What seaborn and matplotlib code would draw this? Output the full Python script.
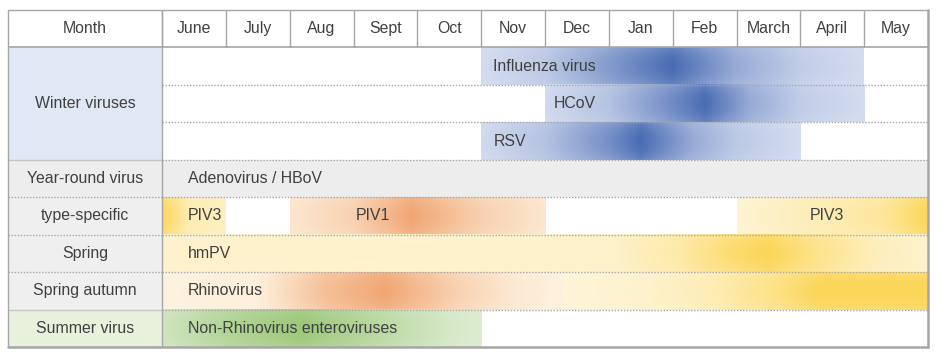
import numpy as np
import matplotlib
matplotlib.use("Agg")
import matplotlib.pyplot as plt
import seaborn as sns

# --- data -------------------------------------------------------------
months = ["June", "July", "Aug", "Sept", "Oct", "Nov", "Dec", "Jan",
          "Feb", "March", "April", "May"]

# category label, first row, last row (rows counted below the header)
groups = ["Winter viruses", "Year-round virus", "type-specific", "Spring",
          "Spring autumn", "Summer virus"]
group_rows = [(0, 3), (3, 4), (4, 5), (5, 6), (6, 7), (7, 8)]
group_fill = ["#e0e7f5", "#eeeded", "#f0efef", "#f0efef", "#f0efef", "#e7f1dc"]

# season bars: row, start month, end month, gradient stops (month, level), hue
bar_rows   = [0, 1, 2, 4, 4, 4, 5, 6, 6, 7]
bar_start  = [5, 6, 5, 0, 2, 9, 0, 0, 6.3, 0]
bar_end    = [11, 11, 10, 1, 6, 12, 12, 6.3, 12, 5]
bar_hue    = ["blue", "blue", "blue", "yellow", "orange", "yellow",
              "yellow", "orange", "yellow", "green"]
bar_stop_x = [[5, 6, 7, 8, 9, 10, 11],
              [6, 7, 8, 8.5, 9.2, 10, 11],
              [5, 6, 7, 7.5, 8.3, 9, 10],
              [0, 0.4, 1],
              [2, 3, 3.9, 5, 6],
              [9, 10.3, 11.3, 12],
              [0, 7.1, 8.1, 8.9, 9.5, 10.3, 11.2, 12],
              [0, 1.5, 2.6, 3.5, 4.6, 5.5, 6.3],
              [6.3, 7.6, 8.6, 9.6, 10.3, 12],
              [0, 1.0, 2.2, 3.5, 4.4, 5]]
bar_stop_v = [[0.1, 0.25, 0.62, 1.0, 0.5, 0.22, 0.1],
              [0.12, 0.3, 0.75, 1.0, 0.5, 0.22, 0.1],
              [0.12, 0.3, 0.72, 1.0, 0.5, 0.25, 0.1],
              [1.0, 0.35, 0.2],
              [0.18, 0.45, 1.0, 0.45, 0.18],
              [0.08, 0.3, 0.5, 1.0],
              [0.12, 0.14, 0.4, 0.8, 1.0, 0.6, 0.25, 0.12],
              [0.02, 0.06, 0.7, 1.0, 0.45, 0.15, 0.02],
              [0.03, 0.12, 0.3, 0.65, 1.0, 1.0],
              [0.3, 0.7, 1.0, 0.55, 0.25, 0.12]]

hues = {"blue": ("#e2e8f6", "#4a6cb4"),
        "orange": ("#fef4e2", "#f1a674"),
        "yellow": ("#fef6dc", "#fcd659"),
        "green": ("#e6f1dc", "#9cc879")}

# virus text labels: text, row, month position
virus_names = ["Influenza virus", "HCoV", "RSV", "Adenovirus / HBoV", "PIV3",
               "PIV1", "PIV3", "hmPV", "Rhinovirus",
               "Non-Rhinovirus enteroviruses"]
virus_rows = [0, 1, 2, 3, 4, 4, 4, 5, 6, 7]
virus_x    = [5.19, 6.14, 5.2, 0.4, 0.4, 3.04, 10.14, 0.4, 0.4, 0.4]

# --- drawing ----------------------------------------------------------
sns.set_style("white")
plt.rcParams["font.family"] = ["Liberation Sans", "DejaVu Sans"]

W, H = 942, 362
fig = plt.figure(figsize=(W / 100, H / 100), dpi=100)
ax = fig.add_axes([8 / W, 1 - 347 / H, 920 / W, 337 / H])
lab_w = 154 / 63.83
ax.axis("off")

txt_color = "#404040"
fs = 11.4
line_c = "#a6a6a6"

# label column fills + year-round grey row
for name, (r0, r1), fc in zip(groups, group_rows, group_fill):
    ax.fill_between([-lab_w, 0], r0 + 1, r1 + 1, color=fc, lw=0, zorder=0)
    ax.text(-lab_w / 2, (r0 + r1) / 2 + 1, name, ha="center", va="center",
            fontsize=fs, color=txt_color, zorder=5)
ax.fill_between([0, 12], 4, 5, color=group_fill[1], lw=0, zorder=0)

# gradient bars
ny = 40
yy = np.linspace(-0.5, 0.5, ny)[:, None]
vfac = 1 - 0.18 * (2 * yy) ** 2
for row, x0, x1, hue, sx, sv in zip(bar_rows, bar_start, bar_end, bar_hue,
                                    bar_stop_x, bar_stop_v):
    cmap = sns.blend_palette(list(hues[hue]), as_cmap=True)
    xs = np.linspace(x0, x1, 400)
    lev = np.interp(xs, sx, sv)[None, :] * vfac
    ax.imshow(cmap(lev), extent=(x0, x1, row + 2, row + 1), aspect="auto",
              interpolation="bilinear", zorder=1)
ax.set_xlim(-lab_w, 12)
ax.set_ylim(9, 0)

# month header
for i, m in enumerate(months):
    ax.text(i + 0.5, 0.5, m, ha="center", va="center", fontsize=fs,
            color=txt_color, zorder=5)
    ax.plot([i, i], [0, 1], color=line_c, lw=1, zorder=3)
ax.text(-lab_w / 2, 0.5, "Month", ha="center", va="center", fontsize=fs,
        color=txt_color, zorder=5)

# virus names
for name, row, x in zip(virus_names, virus_rows, virus_x):
    ax.text(x, row + 1.5, name, ha="left", va="center", fontsize=fs,
            color=txt_color, zorder=5)

# grid lines
dot = (0, (1, 1.2))
for y in range(2, 9):
    ax.plot([0, 12], [y, y], color=line_c, lw=1, ls=dot, zorder=3)
for y in [5, 6, 7]:
    ax.plot([-lab_w, 0], [y, y], color=line_c, lw=1, ls=dot, zorder=3)
for y in [4, 8]:
    ax.plot([-lab_w, 0], [y, y], color="#c4c4c4", lw=1, zorder=3)
ax.plot([-lab_w, 12], [1, 1], color=line_c, lw=1.2, zorder=3)
ax.plot([0, 0], [0, 9], color=line_c, lw=1, zorder=3)
ax.plot([-lab_w, 12], [0, 0], color=line_c, lw=1, zorder=4, clip_on=False)
ax.plot([-lab_w, -lab_w], [0, 9], color=line_c, lw=1, zorder=4, clip_on=False)
ax.plot([12, 12], [0, 9], color=line_c, lw=1.8, zorder=4, clip_on=False)
ax.plot([-lab_w, 12], [9, 9], color=line_c, lw=1.8, zorder=4, clip_on=False)

fig.savefig("out.png", dpi=100)
